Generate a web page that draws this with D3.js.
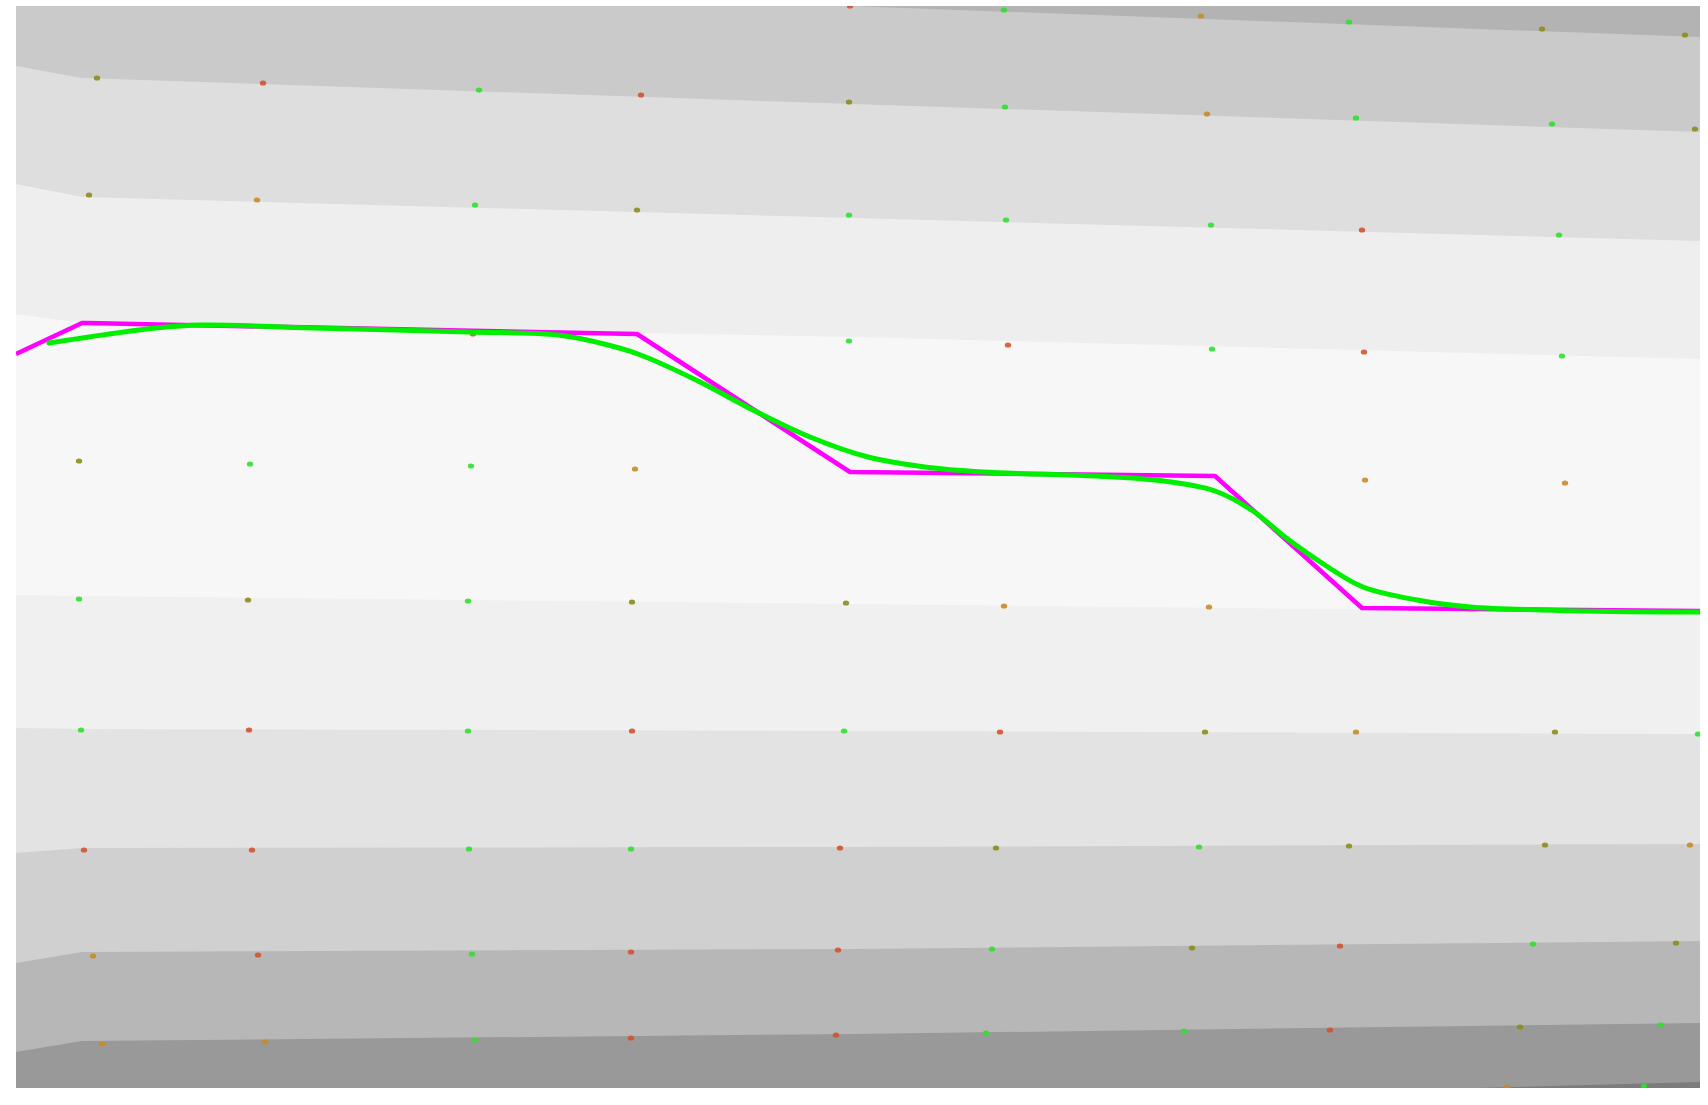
<!DOCTYPE html>
<html>
<head>
<meta charset="utf-8">
<script src="https://cdn.jsdelivr.net/npm/d3@7"></script>
<style>
  body { margin: 0; background: #fff; }
</style>
</head>
<body>
<div id="chart"></div>
<script>
// Scene extents (scene units, origin at top-left of the rendered view)
const sceneW = 1684;
const sceneH = 1082;

// Shaded bands: each boundary is a polyline; band colour applies below it
const bandTopColor = "#b3b3b3";
const bandBoundaries = [
    [[0, 0], [834, 0], [1684, 31]],
    [[0, 60], [66, 72], [838, 98], [1684, 126]],
    [[0, 178], [66, 191], [838, 212], [1684, 235]],
    [[0, 308], [66, 317], [838, 331], [1684, 353]],
    [[0, 589], [66, 590], [838, 598], [1684, 607]],
    [[0, 722], [66, 723], [838, 725], [1684, 728]],
    [[0, 847], [66, 842], [838, 841], [1684, 838]],
    [[0, 957], [66, 946], [838, 943], [1684, 935]],
    [[0, 1046], [66, 1035], [838, 1028], [1684, 1017]],
    [[1460, 1082], [1684, 1076]]
];
const bandColors = ["#cacaca", "#dedede", "#eeeeee", "#f7f7f7", "#f0f0f0",
    "#e3e3e3", "#d0d0d0", "#b7b7b7", "#999999", "#7c7c7c"];

// Grid markers [x, y, type]
const markers = [
    // row A
    [834, 0, "r"], [988, 4, "g"], [1185, 10, "o"], [1333, 16, "g"], [1526, 23, "y"], [1669, 29, "y"],
    // row B
    [81, 72, "y"], [247, 77, "r"], [463, 84, "g"], [625, 89, "r"], [833, 96, "y"],
    [989, 101, "g"], [1191, 108, "o"], [1340, 112, "g"], [1536, 118, "g"], [1679, 123, "y"],
    // row C
    [73, 189, "y"], [241, 194, "o"], [459, 199, "g"], [621, 204, "y"], [833, 209, "g"],
    [990, 214, "g"], [1195, 219, "g"], [1346, 224, "r"], [1543, 229, "g"],
    // row D
    [457, 328, "r"], [833, 335, "g"], [992, 339, "r"], [1196, 343, "g"], [1348, 346, "r"], [1546, 350, "g"],
    // row E
    [63, 455, "y"], [234, 458, "g"], [455, 460, "g"], [619, 463, "o"], [1349, 474, "o"], [1549, 477, "o"],
    // row F
    [63, 593, "g"], [232, 594, "y"], [452, 595, "g"], [616, 596, "y"], [830, 597, "y"],
    [988, 600, "o"], [1193, 601, "o"],
    // row G
    [65, 724, "g"], [233, 724, "r"], [452, 725, "g"], [616, 725, "r"], [828, 725, "g"],
    [984, 726, "r"], [1189, 726, "y"], [1340, 726, "o"], [1539, 726, "y"], [1682, 728, "g"],
    // row H
    [68, 844, "r"], [236, 844, "r"], [453, 843, "g"], [615, 843, "g"], [824, 842, "r"],
    [980, 842, "y"], [1183, 841, "g"], [1333, 840, "y"], [1529, 839, "y"], [1674, 839, "o"],
    // row I
    [77, 950, "o"], [242, 949, "r"], [456, 948, "g"], [615, 946, "r"], [822, 944, "r"],
    [976, 943, "g"], [1176, 942, "y"], [1324, 940, "r"], [1517, 938, "g"], [1660, 937, "y"],
    // row J
    [86, 1038, "o"], [249, 1036, "o"], [459, 1034, "g"], [615, 1032, "r"], [820, 1029, "r"],
    [970, 1027, "g"], [1168, 1025, "g"], [1314, 1024, "r"], [1504, 1021, "y"], [1645, 1019, "g"],
    // row K
    [1491, 1081, "o"], [1628, 1080, "g"]
];
const markerTypes = ["r", "o", "y", "g"];
const markerColors = ["#d4522e", "#c98a2a", "#8c8c1e", "#2ee02e"];

// Reference path (piecewise linear) and fitted path (smooth)
const refPath = [[0, 348], [66, 317], [71, 317], [621, 328], [834, 466], [1199, 470], [1346, 602], [1684, 605]];
const fitPath = [[33, 337], [73, 331], [140, 322], [185, 319], [296, 322], [453, 326], [542, 329],
    [584, 337], [622, 348], [680, 374], [737, 404], [794, 431], [852, 451], [909, 461],
    [967, 466], [1081, 470], [1139, 474], [1199, 485], [1237, 505], [1269, 531], [1312, 561],
    [1347, 581], [1401, 594], [1454, 601], [1525, 604], [1650, 606], [1684, 606]];

const margin = { top: 6, right: 8, bottom: 17, left: 16 };
const width = 1708 - margin.left - margin.right;
const height = 1105 - margin.top - margin.bottom;

const svg = d3.select("#chart")
    .append("svg")
    .attr("width", 1708)
    .attr("height", 1105)
    .append("g")
    .attr("transform", `translate(${margin.left},${margin.top})`);

const x = d3.scaleLinear().domain([0, sceneW]).range([0, width]);
const y = d3.scaleLinear().domain([0, sceneH]).range([0, height]);
const color = d3.scaleOrdinal().domain(markerTypes).range(markerColors);

svg.append("clipPath").attr("id", "clip")
    .append("rect").attr("width", width).attr("height", height);

const scene = svg.append("g").attr("clip-path", "url(#clip)");

// Background bands, painted top to bottom
scene.append("rect")
    .attr("width", width)
    .attr("height", height)
    .style("fill", bandTopColor);

const outline = d3.line().x(d => x(d[0])).y(d => y(d[1]));
bandBoundaries.forEach((b, i) => {
    const last = b[b.length - 1];
    const poly = b.concat([[sceneW, last[1]], [sceneW, sceneH], [b[0][0], sceneH]]);
    scene.append("path")
        .attr("d", outline(poly) + "Z")
        .style("fill", bandColors[i]);
});

// Markers
scene.selectAll(".marker")
    .data(markers)
    .enter()
    .append("ellipse")
    .attr("class", "marker")
    .attr("cx", d => x(d[0]))
    .attr("cy", d => y(d[1]))
    .attr("rx", 3.2)
    .attr("ry", 2.6)
    .style("fill", d => color(d[2]))
    .style("opacity", 0.9);

// Reference path
scene.append("path")
    .datum(refPath)
    .attr("d", d3.line().x(d => x(d[0])).y(d => y(d[1])))
    .style("fill", "none")
    .style("stroke", "#ff00ff")
    .style("stroke-width", 4.5)
    .style("stroke-linejoin", "round");

// Fitted path
scene.append("path")
    .datum(fitPath)
    .attr("d", d3.line().curve(d3.curveCatmullRom).x(d => x(d[0])).y(d => y(d[1])))
    .style("fill", "none")
    .style("stroke", "#00ee00")
    .style("stroke-width", 5)
    .style("stroke-linecap", "round");
</script>
</body>
</html>
